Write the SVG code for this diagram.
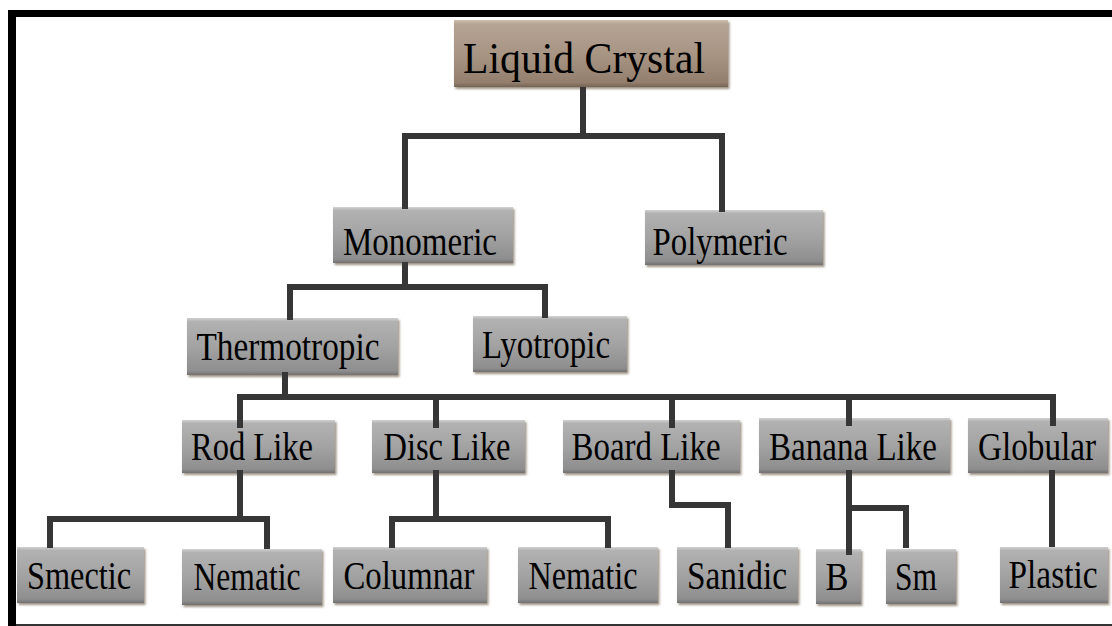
<svg xmlns="http://www.w3.org/2000/svg" width="1112" height="626" viewBox="0 0 1112 626">
<style>
.box{fill:url(#gray);filter:url(#sh);}
.top{fill:url(#brown);filter:url(#sh);}
.t{font-family:"Liberation Serif","Times New Roman",serif;font-size:39px;fill:#000;text-anchor:middle;}
.lc{font-size:45px;}
.con{fill:none;stroke:#363636;stroke-width:6;stroke-linejoin:miter;}
</style>
<defs>
<linearGradient id="gray" x1="0" y1="0" x2="0" y2="1">
<stop offset="0" stop-color="#d2d2d2"/>
<stop offset="0.06" stop-color="#b2b2b2"/>
<stop offset="0.5" stop-color="#a3a3a3"/>
<stop offset="0.93" stop-color="#8e8e8e"/>
<stop offset="1" stop-color="#707070"/>
</linearGradient>
<linearGradient id="brown" x1="0" y1="0" x2="0" y2="1">
<stop offset="0" stop-color="#cfc0b2"/>
<stop offset="0.06" stop-color="#b5a394"/>
<stop offset="0.5" stop-color="#a89584"/>
<stop offset="0.93" stop-color="#947f6e"/>
<stop offset="1" stop-color="#766454"/>
</linearGradient>
<filter id="sh" x="-10%" y="-10%" width="120%" height="130%">
<feDropShadow dx="1.5" dy="2" stdDeviation="1.2" flood-color="#5a4636" flood-opacity="0.6"/>
</filter>
</defs>
<rect x="0" y="0" width="1112" height="626" fill="#fff"/>
<rect x="8" y="10" width="1104" height="7" fill="#000"/>
<rect x="8" y="10" width="8" height="616" fill="#000"/>
<rect x="16" y="624" width="1096" height="2" fill="#333"/>

<g id="n-liquid-crystal"><rect class="top" x="454" y="20" width="274" height="67"/><text class="t lc" x="584" y="73" textLength="242" lengthAdjust="spacingAndGlyphs">Liquid Crystal</text></g>
<g id="n-monomeric"><rect class="box" x="333" y="207" width="180" height="56"/><text class="t" x="420" y="255" textLength="154" lengthAdjust="spacingAndGlyphs">Monomeric</text></g>
<g id="n-polymeric"><rect class="box" x="645" y="210" width="178" height="55"/><text class="t" x="720" y="255" textLength="135" lengthAdjust="spacingAndGlyphs">Polymeric</text></g>
<g id="n-thermotropic"><rect class="box" x="187" y="318" width="211" height="57"/><text class="t" x="288" y="360" textLength="183" lengthAdjust="spacingAndGlyphs">Thermotropic</text></g>
<g id="n-lyotropic"><rect class="box" x="473" y="316" width="154" height="56"/><text class="t" x="546" y="358" textLength="128" lengthAdjust="spacingAndGlyphs">Lyotropic</text></g>

<g id="n-rod"><rect class="box" x="182" y="420" width="153" height="53"/><text class="t" x="252" y="460" textLength="122" lengthAdjust="spacingAndGlyphs">Rod Like</text></g>
<g id="n-disc"><rect class="box" x="372" y="420" width="153" height="53"/><text class="t" x="447" y="460" textLength="127" lengthAdjust="spacingAndGlyphs">Disc Like</text></g>
<g id="n-board"><rect class="box" x="563" y="420" width="177" height="53"/><text class="t" x="646" y="460" textLength="149" lengthAdjust="spacingAndGlyphs">Board Like</text></g>
<g id="n-banana"><rect class="box" x="759" y="418" width="191" height="55"/><text class="t" x="853" y="460" textLength="168" lengthAdjust="spacingAndGlyphs">Banana Like</text></g>
<g id="n-globular"><rect class="box" x="968" y="418" width="140" height="55"/><text class="t" x="1037" y="460" textLength="118" lengthAdjust="spacingAndGlyphs">Globular</text></g>

<g id="n-smectic"><rect class="box" x="17" y="547" width="127" height="56"/><text class="t" x="79" y="589" textLength="104" lengthAdjust="spacingAndGlyphs">Smectic</text></g>
<g id="n-nematic1"><rect class="box" x="182" y="549" width="140" height="56"/><text class="t" x="247" y="590" textLength="107" lengthAdjust="spacingAndGlyphs">Nematic</text></g>
<g id="n-columnar"><rect class="box" x="333" y="547" width="154" height="56"/><text class="t" x="409" y="589" textLength="131" lengthAdjust="spacingAndGlyphs">Columnar</text></g>
<g id="n-nematic2"><rect class="box" x="518" y="547" width="140" height="56"/><text class="t" x="583" y="589" textLength="109" lengthAdjust="spacingAndGlyphs">Nematic</text></g>
<g id="n-sanidic"><rect class="box" x="677" y="547" width="121" height="56"/><text class="t" x="737" y="589" textLength="100" lengthAdjust="spacingAndGlyphs">Sanidic</text></g>
<g id="n-b"><rect class="box" x="816" y="549" width="45" height="55"/><text class="t" x="837" y="590" textLength="23" lengthAdjust="spacingAndGlyphs">B</text></g>
<g id="n-sm"><rect class="box" x="886" y="549" width="70" height="55"/><text class="t" x="916" y="590" textLength="42" lengthAdjust="spacingAndGlyphs">Sm</text></g>
<g id="n-plastic"><rect class="box" x="1000" y="547" width="108" height="56"/><text class="t" x="1053" y="588" textLength="89" lengthAdjust="spacingAndGlyphs">Plastic</text></g>

<g id="connectors">
<path class="con" d="M583,87 V136 M405,209 V136 H722 V212"/>
<path class="con" d="M405,262 V287 M290,320 V287 H545 V318"/>
<path class="con" d="M285,372 V397 M240,428 V397 H1053 V426 M436,397 V428 M672,397 V428 M849,397 V426"/>
<path class="con" d="M240,470 V519 M50,548 V519 H267 V549"/>
<path class="con" d="M436,470 V519 M392,548 V519 H608 V548"/>
<path class="con" d="M672,470 V505 H728 V548"/>
<path class="con" d="M849,470 V555 M849,508 H906 V548"/>
<path class="con" d="M1052,470 V547"/>
</g>
</svg>
